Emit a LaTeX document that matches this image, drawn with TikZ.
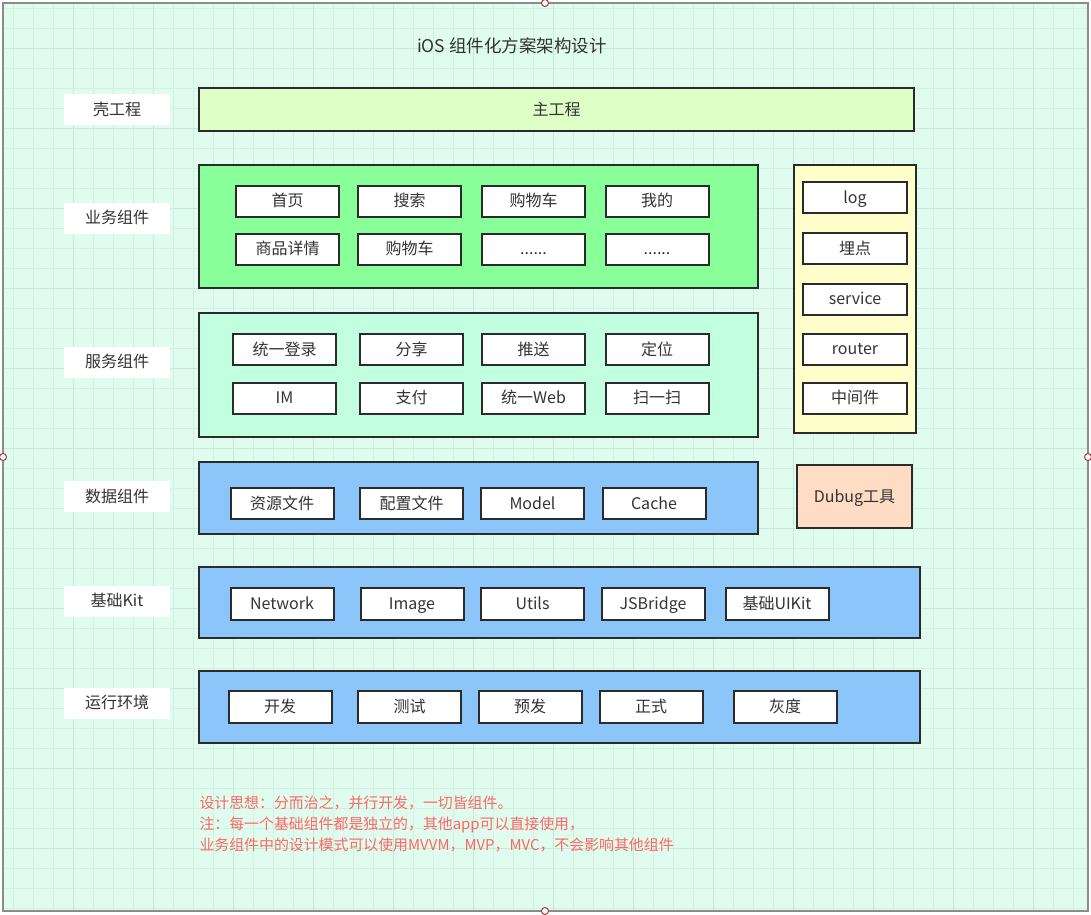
\documentclass[tikz,border=0pt]{standalone}
\usepackage{fontspec}
\setmainfont{Noto Sans CJK SC}
\usetikzlibrary{positioning}
\definecolor{canvas}{HTML}{DFFCEE}
\definecolor{gridline}{HTML}{D3F0E1}
\definecolor{gridmajor}{HTML}{C9E8D8}
\definecolor{frame}{HTML}{8C8C8C}
\definecolor{ink}{HTML}{333333}
\definecolor{edge}{HTML}{2B2B2B}
\definecolor{shellfill}{HTML}{DDFFC6}
\definecolor{bizfill}{HTML}{88FF99}
\definecolor{svcfill}{HTML}{C2FFE0}
\definecolor{bluefill}{HTML}{8BC5FA}
\definecolor{sidefill}{HTML}{FFFFCC}
\definecolor{debugfill}{HTML}{FFDDC4}
\definecolor{note}{HTML}{FF6666}
\definecolor{handle}{HTML}{A33A3A}

\begin{document}
\begin{tikzpicture}[x=1pt,y=-1pt,font=\fontsize{16}{18}\selectfont,text=ink,
  layer/.style={draw=edge,line width=2pt,inner sep=0pt,text height=12.5pt,text depth=1.5pt},
  item/.style={draw=edge,line width=2pt,fill=white,minimum width=103pt,
    minimum height=31pt,inner sep=0pt,text height=12.5pt,text depth=1.5pt},
  tag/.style={fill=white,minimum width=106pt,minimum height=31pt,inner sep=0pt,
    text height=12.5pt,text depth=1.5pt},
  handlept/.style={circle,draw=handle,fill=white,line width=1pt,
    minimum size=7pt,inner sep=0pt}]
  \useasboundingbox[fill=white] (0,0) rectangle (1091,914);

  % canvas and grid
  \fill[canvas] (3,3) rectangle (1088,911);
  \begin{scope}
    \clip (3,3) rectangle (1088,911);
    \foreach \gx in {13,33,...,1073} \draw[gridline,line width=0.8pt] (\gx,3) -- (\gx,911);
    \foreach \gy in {8,28,...,908} \draw[gridline,line width=0.8pt] (3,\gy) -- (1088,\gy);
    \foreach \gx in {73,153,...,1033} \draw[gridmajor,line width=0.8pt] (\gx,3) -- (\gx,911);
    \foreach \gy in {48,128,...,848} \draw[gridmajor,line width=0.8pt] (3,\gy) -- (1088,\gy);
  \end{scope}
  \draw[frame,line width=2pt] (3,3) rectangle (1088,911);

  \node[font=\fontsize{17.5}{20}\selectfont] (title) at (512,46) {iOS 组件化方案架构设计};

  % left labels
  \node[tag] (tShell) at (117,109.5) {壳工程};
  \node[tag] (tBiz) at (117,218) {业务组件};
  \node[tag] (tSvc) at (117,362) {服务组件};
  \node[tag] (tData) at (117,496.5) {数据组件};
  \node[tag] (tKit) at (117,601) {基础Kit};
  \node[tag] (tEnv) at (117,703) {运行环境};

  % layers
  \node[layer,fill=shellfill,minimum width=715pt,minimum height=43pt] (shell) at (556.5,109.5) {主工程};
  \node[layer,fill=bizfill,minimum width=559pt,minimum height=123pt] (biz) at (478.5,226.5) {};
  \node[layer,fill=svcfill,minimum width=559pt,minimum height=124pt] (svc) at (478.5,375) {};
  \node[layer,fill=bluefill,minimum width=559pt,minimum height=72pt] (data) at (478.5,498) {};
  \node[layer,fill=bluefill,minimum width=721pt,minimum height=71pt] (kit) at (559.5,602.5) {};
  \node[layer,fill=bluefill,minimum width=721pt,minimum height=72pt] (env) at (559.5,707) {};
  \node[layer,fill=sidefill,minimum width=122pt,minimum height=268pt] (side) at (855,299) {};
  \node[layer,fill=debugfill,minimum width=115pt,minimum height=63pt] (debug) at (854.5,496.5) {Dubug工具};

  % business components
  \foreach \t/\x/\n in {首页/287.5/bHome,搜索/409.5/bSearch,购物车/533.5/bCart,我的/657/bMine}
    \node[item] (\n) at (\x,201) {\t};
  \foreach \t/\x/\n in {商品详情/287.5/bDetail,购物车/409.5/bCartB}
    \node[item] (\n) at (\x,249) {\t};
  \node[item] (bMoreA) at (533.5,249) {......};
  \node[item] (bMoreB) at (657,249) {......};

  % service components
  \foreach \t/\x/\n in {统一登录/284.5/sLogin,分享/411.5/sShare,推送/533.5/sPush,定位/657/sLocate}
    \node[item] (\n) at (\x,349.5) {\t};
  \foreach \t/\x/\n in {IM/284.5/sIM,支付/411.5/sPay,统一Web/533.5/sWeb,扫一扫/657/sScan}
    \node[item] (\n) at (\x,398) {\t};

  % data components
  \foreach \t/\x/\n in {资源文件/282/dRes,配置文件/411.5/dConf,Model/532.5/dModel,Cache/654/dCache}
    \node[item] (\n) at (\x,503.5) {\t};

  % base kit
  \foreach \t/\x/\n in {Network/282/kNet,Image/412/kImage,Utils/532.5/kUtils,JSBridge/653/kBridge,基础UIKit/777/kUI}
    \node[item,minimum height=32pt] (\n) at (\x,604) {\t};

  % environments
  \foreach \t/\x/\n in {开发/280/eDev,测试/409.5/eTest,预发/530/ePre,正式/651/eProd,灰度/785/eGray}
    \node[item,minimum height=32pt] (\n) at (\x,707) {\t};

  % side column
  \foreach \t/\y/\n in {log/197.5/rLog,埋点/248.5/rTrack,service/299/rService,router/349/rRouter,中间件/398/rMiddle}
    \node[item,minimum width=104pt] (\n) at (855,\y) {\t};

  \node[anchor=west,align=left,text=note,font=\fontsize{14.9}{21}\selectfont] (notes) at (196,824)
    {设计思想：分而治之，并行开发，一切皆组件。\\
     注：每一个基础组件都是独立的，其他app可以直接使用，\\
     业务组件中的设计模式可以使用MVVM，MVP，MVC，不会影响其他组件};

  \node[handlept] (hTop) at (545,3) {};
  \node[handlept] (hLeft) at (3,457) {};
  \node[handlept] (hRight) at (1088,457) {};
  \node[handlept] (hBottom) at (545,911) {};
\end{tikzpicture}
\end{document}
